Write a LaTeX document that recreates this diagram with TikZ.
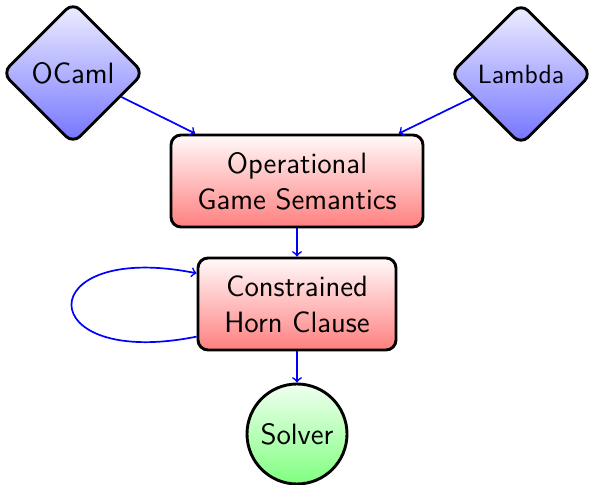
\documentclass[tikz,border=0pt]{standalone}
\usetikzlibrary{shapes.geometric}
\begin{document}
\begin{tikzpicture}[x=0.5pt,y=-0.5pt,
  base/.style={draw=black,line width=1.45pt,font=\sffamily\fontsize{14.7}{18}\selectfont,align=center,inner sep=0pt},
  lang/.style={base,diamond,aspect=1,minimum width=71pt,minimum height=71pt,rounded corners=5pt,
    top color=blue!6,bottom color=blue!55},
  smalltext/.style={font=\sffamily\fontsize{13.2}{16}\selectfont},
  stage/.style={base,rectangle,minimum height=46pt,rounded corners=5pt,
    top color=red!2,bottom color=red!50},
  solverbox/.style={base,circle,minimum size=50pt,top color=green!6,bottom color=green!50},
  flow/.style={->,draw=blue,line width=0.85pt}]
\useasboundingbox (0,0) rectangle (589,485);
\node[lang] (ocaml) at (73,73) {OCaml};
\node[lang,smalltext] (lambda) at (521,74) {Lambda};
\node[stage,minimum width=126pt] (ogs) at (297,181) {Operational\\Game Semantics};
\node[stage,minimum width=99pt] (chc) at (297,304) {Constrained\\Horn Clause};
\node[solverbox] (solver) at (297,434) {Solver};
\draw[flow] (ocaml) -- (ogs.155);
\draw[flow] (lambda) -- (ogs.25);
\draw[flow] (ogs) -- (chc);
\draw[flow] (chc) -- (solver);
\draw[flow] (chc.198) .. controls (30,370) and (30,240) .. (chc.163);
\end{tikzpicture}
\end{document}
